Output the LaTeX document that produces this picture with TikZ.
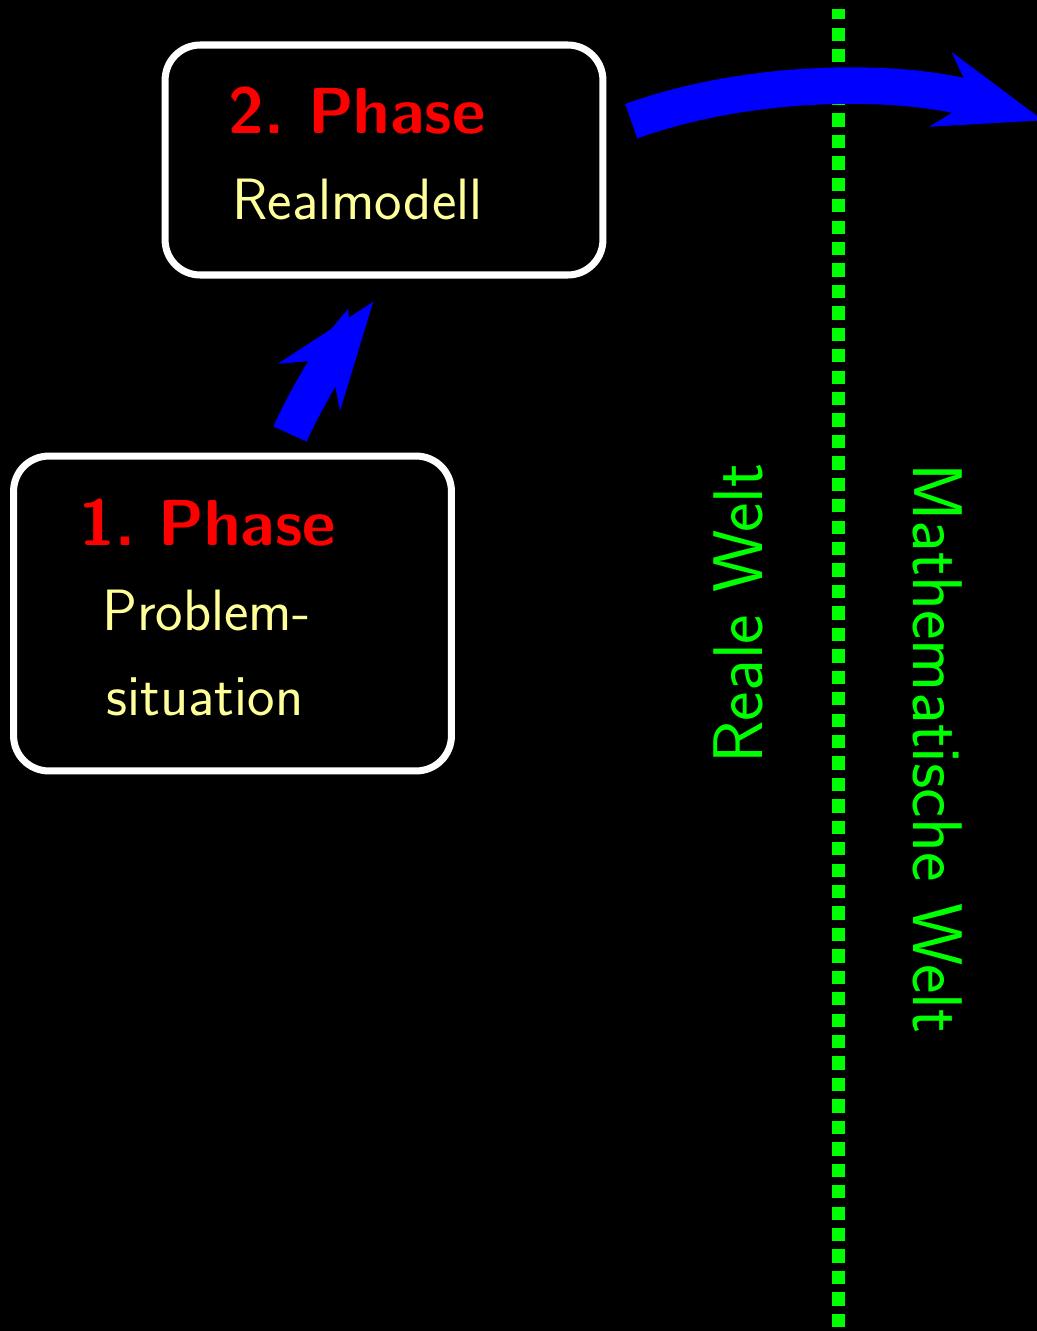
\documentclass[tikz,border=0pt]{standalone}
\usetikzlibrary{arrows.meta}
\definecolor{paleyellow}{RGB}{255,255,153}
\definecolor{worldgreen}{RGB}{0,255,0}
\tikzset{
  phasebox/.style={draw=white, line width=4pt, rounded corners=20pt,
    minimum width=249.2pt, inner sep=0pt},
  phasetitle/.style={text=red, anchor=base,
    font=\fontsize{37}{40}\selectfont\sffamily\bfseries},
  phasename/.style={text=paleyellow, anchor=base,
    font=\fontsize{33.2}{36}\selectfont\sffamily},
  worldlabel/.style={text=worldgreen, anchor=base west, inner sep=0pt,
    font=\fontsize{40}{44}\selectfont\sffamily},
  flow/.style={draw=blue, line width=20.8pt,
    -{Stealth[length=61pt,width=44.5pt,line width=0pt]}},
  worldborder/.style={draw=worldgreen, line width=7.4pt,
    dash pattern=on 7.57pt off 4.63pt}
}
\begin{document}
\begin{tikzpicture}[x=0.02cm, y=-0.02cm]
  % canvas
  \fill[black] (0,0) rectangle (1037,1331);
  \useasboundingbox (0,0) rectangle (1037,1331);

  % phase boxes
  \node[phasebox, minimum height=179.2pt] (b1) at (232.5,613.5) {};
  \node[phasebox, minimum height=130.9pt] (b2) at (384,160) {};

  \node[phasetitle] (t1) at (207.5,545) {1.\ Phase};
  \node[phasename] (n1a) at (206.5,630) {Problem-};
  \node[phasename] (n1b) at (205,715) {situation};

  \node[phasetitle] (t2) at (357,134) {2.\ Phase};
  \node[phasename] (n2) at (357.5,219) {Realmodell};

  % border between the two worlds
  \coordinate (dbot) at (838.5,1327);
  \coordinate (dtop) at (838.5,9.3);
  \draw[worldborder] (dbot) -- (dtop);

  \node[worldlabel, rotate=90] (real) at (762.7,764) {Reale Welt};
  \node[worldlabel, rotate=-90] (math) at (913,463) {Mathematische Welt};

  % transitions
  \coordinate (a1s) at (290,434);
  \coordinate (a1e) at (373.3,301.7);
  \draw[flow] (a1s) .. controls (311.3,386.5) and (341.9,343.4) .. (a1e);

  \coordinate (a2s) at (631.2,121.2);
  \coordinate (a2e) at (1042.9,120.3);
  \draw[flow] (a2s) .. controls (760.3,74.9) and (911.8,80.8) .. (a2e);
\end{tikzpicture}
\end{document}
